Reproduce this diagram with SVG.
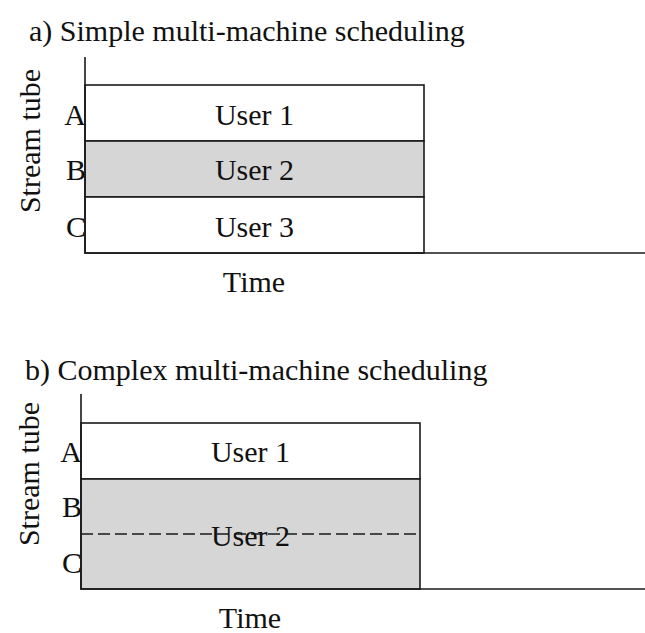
<svg xmlns="http://www.w3.org/2000/svg" width="645" height="633" viewBox="0 0 645 633">
  <style>
    text { font-family: "Liberation Serif", "Times New Roman", serif; font-size: 30px; fill: #111; }
    .mid { text-anchor: middle; }
    .end { text-anchor: end; }
    .box { fill: #ffffff; stroke: #1a1a1a; stroke-width: 1.6; }
    .busy { fill: #d6d6d6; stroke: #1a1a1a; stroke-width: 1.6; }
    .axis { fill: none; stroke: #1a1a1a; stroke-width: 1.6; }
    .split { fill: none; stroke: #1a1a1a; stroke-width: 1.4; stroke-dasharray: 12 5; }
  </style>
  <rect width="645" height="633" fill="#ffffff"/>

  <!-- a) simple scheduling: one user per stream tube -->
  <g id="panel-a">
    <text x="29" y="41">a) Simple multi-machine scheduling</text>
    <text class="mid" transform="translate(40,141) rotate(-90)">Stream tube</text>
    <g id="a-user1">
      <rect class="box" x="85" y="85" width="339" height="56"/>
      <text class="mid" x="254.5" y="125">User 1</text>
    </g>
    <g id="a-user2">
      <rect class="busy" x="85" y="141" width="339" height="56"/>
      <text class="mid" x="254.5" y="180">User 2</text>
    </g>
    <g id="a-user3">
      <rect class="box" x="85" y="197" width="339" height="56"/>
      <text class="mid" x="254.5" y="237">User 3</text>
    </g>
    <text class="end" x="86" y="125">A</text>
    <text class="end" x="86" y="180">B</text>
    <text class="end" x="86" y="237">C</text>
    <text class="mid" x="254" y="292">Time</text>
  </g>

  <!-- b) complex scheduling: one user spans two stream tubes -->
  <g id="panel-b">
    <text x="25" y="380">b) Complex multi-machine scheduling</text>
    <text class="mid" transform="translate(39,474) rotate(-90)">Stream tube</text>
    <g id="b-user1">
      <rect class="box" x="81" y="423" width="339" height="56"/>
      <text class="mid" x="250.5" y="462">User 1</text>
    </g>
    <g id="b-user2">
      <rect class="busy" x="81" y="479" width="339" height="110"/>
      <text class="mid" x="250.5" y="546">User 2</text>
    </g>
    <text class="end" x="82" y="462">A</text>
    <text class="end" x="82" y="517">B</text>
    <text class="end" x="82" y="573">C</text>
    <text class="mid" x="250" y="628">Time</text>
  </g>

  <!-- axes and the tube boundary inside User 2 -->
  <g id="connectors">
    <path class="axis" d="M85 57 V253 H645"/>
    <path class="axis" d="M81 394 V589 H645"/>
    <line class="split" x1="81" y1="534" x2="420" y2="534"/>
  </g>
</svg>
